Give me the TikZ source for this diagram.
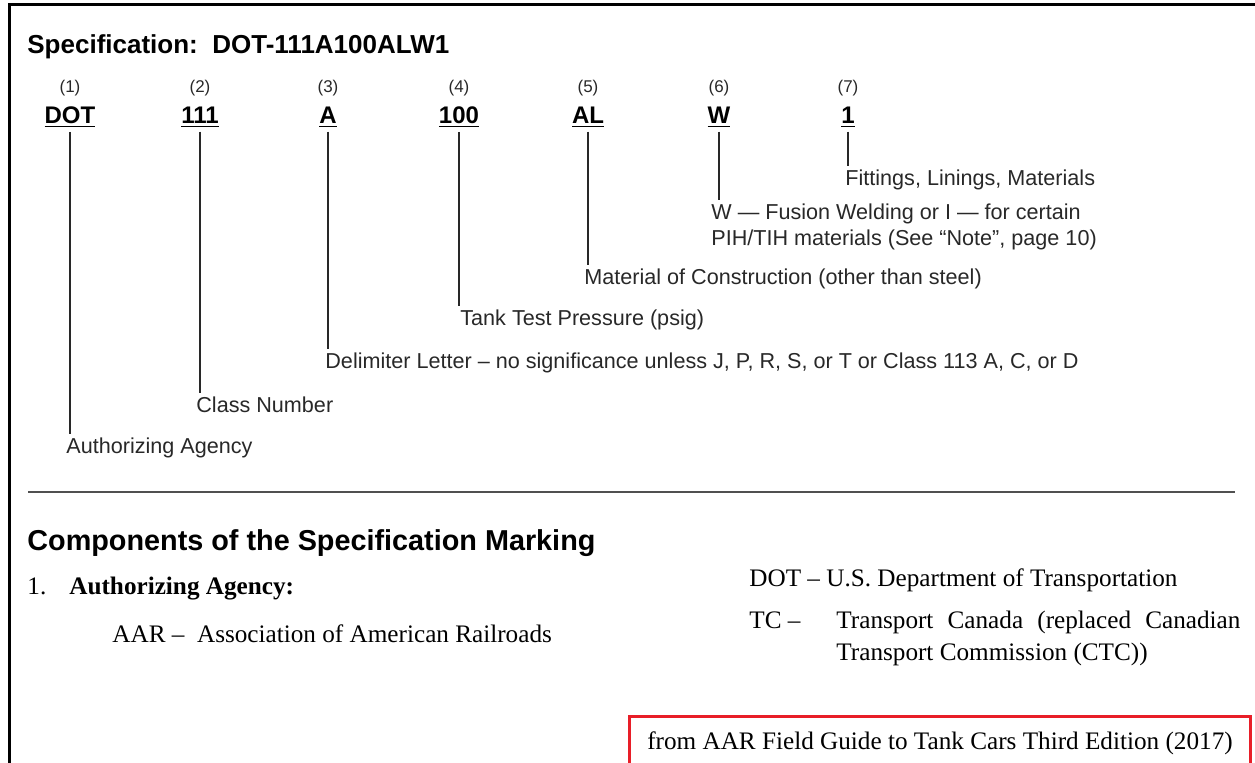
\documentclass[tikz,border=0pt]{standalone}
\usepackage{fontspec}
\setmainfont{Liberation Serif}
\setsansfont{Liberation Sans}
\usetikzlibrary{positioning}
\definecolor{inkgray}{RGB}{40,40,40}
\definecolor{rulegray}{RGB}{80,80,80}
\definecolor{boxred}{RGB}{232,30,40}

\begin{document}
\begin{tikzpicture}[x=0.5pt, y=-0.5pt, font=\sffamily]
\tikzset{
  num/.style={font=\sffamily\fontsize{8.5}{10}\selectfont, text=inkgray},
  code/.style={font=\sffamily\bfseries\fontsize{12}{14}\selectfont, inner sep=2pt},
  lbl/.style={font=\sffamily\fontsize{10.8}{13}\selectfont, text=inkgray,
              anchor=west, inner xsep=0pt, inner ysep=2pt},
  leader/.style={line width=1pt, inkgray},
  serif/.style={font=\rmfamily\fontsize{12.6}{15}\selectfont, anchor=base west, inner sep=0pt}
}
\useasboundingbox (0,0) rectangle (1255,763);

% ---- frame ----
\draw[line width=1.5pt] (9,763) -- (9,5) -- (1255,5);

% ---- title and the seven parts ----
\node[font=\sffamily\bfseries\fontsize{13}{15}\selectfont, anchor=west, inner sep=0pt]
  (title) at (27,47) {Specification:\ \ DOT-111A100ALW1};

\foreach \i/\code/\x in {1/DOT/70, 2/111/200, 3/A/328, 4/100/459, 5/AL/588, 6/W/719, 7/1/848}{
  \node[num] (n\i) at (\x,88) {(\i)};
  \node[code] (c\i) at (\x,117) {\underline{\code}};
}

% ---- what each part means ----
\node[lbl] (fit) at (845,180) {Fittings, Linings, Materials};
\node[lbl, align=left] (weld) at (711,227)
  {W --- Fusion Welding or I --- for certain\\PIH/TIH materials (See ``Note'', page 10)};
\node[lbl] (mat) at (584,279) {Material of Construction (other than steel)};
\node[lbl] (press) at (460,320) {Tank Test Pressure (psig)};
\node[lbl] (delim) at (325,363)
  {Delimiter Letter -- no significance unless J, P, R, S, or T or Class 113 A, C, or D};
\node[lbl] (classno) at (196,405) {Class Number};
\node[lbl] (agency) at (66,448) {Authorizing Agency};

\foreach \i/\l in {1/agency, 2/classno, 3/delim, 4/press, 5/mat, 6/weld, 7/fit}
  \draw[leader] (c\i.south) -- (c\i.south |- \l.north);

\draw[rulegray, line width=1pt] (28,492) -- (1235,492);

% ---- components ----
\node[font=\sffamily\bfseries\fontsize{14.4}{17}\selectfont, anchor=west, inner sep=0pt]
  (heading) at (27,543) {Components of the Specification Marking};
\node[serif] (item) at (27,595) {1.};
\node[serif, font=\rmfamily\bfseries\fontsize{12.6}{15}\selectfont] (itemtxt) at (69,595)
  {Authorizing Agency:};
\node[serif] (aar) at (112,643) {AAR --\ \ Association of American Railroads};
\node[serif] (dot) at (749,587) {DOT -- U.S. Department of Transportation};
\node[serif] (tc) at (749,629) {TC --};
\node[serif] (tca) at (836,629) {\makebox[202pt][s]{Transport Canada (replaced Canadian}};
\node[serif] (tcb) at (836,661) {Transport Commission (CTC))};

% ---- source ----
\node[draw=boxred, line width=1.5pt, font=\rmfamily\fontsize{12.6}{15}\selectfont,
      inner xsep=9pt, minimum height=26pt] (src) at (940,743)
  {from AAR Field Guide to Tank Cars Third Edition (2017)};

\end{tikzpicture}
\end{document}
